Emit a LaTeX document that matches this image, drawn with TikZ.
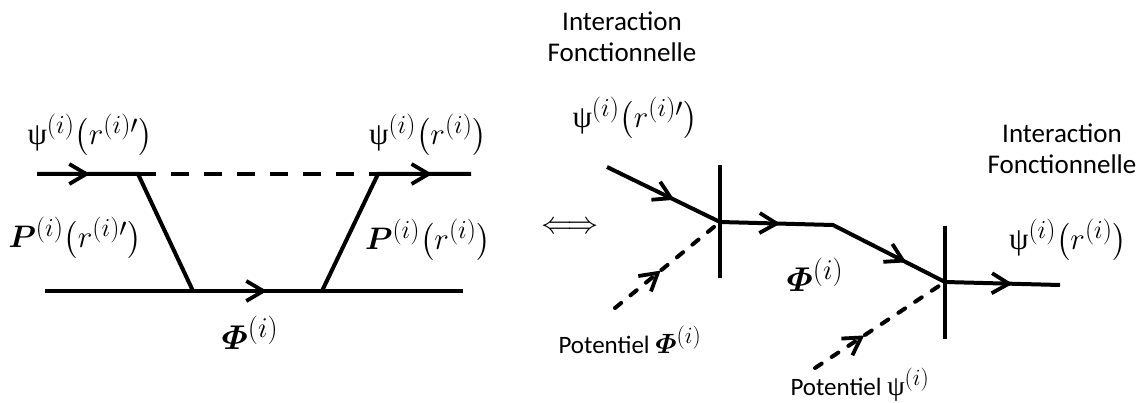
\documentclass[tikz,border=0pt]{standalone}
\usepackage{amsmath}
\usepackage{bm}
\usepackage[no-math]{fontspec}
\setmainfont{Carlito}
\newfontfamily\grkfont{Liberation Serif}
\newcommand{\mypsi}{\text{\grkfont ψ}}
\newcommand{\bigmath}[2]{\scalebox{#1}{\fontsize{24.88}{30}\selectfont$#2$}}
\usetikzlibrary{arrows.meta,decorations.markings}
\begin{document}
\begin{tikzpicture}[x=1pt,y=-1pt,
  line width=4pt, line join=miter,
  >={Straight Barb[length=17pt 0, width=20pt 0, line width=3.8pt]},
  lbl/.style={inner sep=0pt},
  txt/.style={inner sep=0pt, font=\fontsize{27}{31}\selectfont, align=center},
  pot/.style={inner sep=0pt, font=\fontsize{25}{30}\selectfont},
  bigdash/.style={dash pattern=on 18pt off 15pt},
  smalldash/.style={line cap=round, dash pattern=on 8pt off 12pt},
  arrowat/.style={postaction={decorate},decoration={markings,mark=at position #1 with {\arrow{>}}}}]
\useasboundingbox (0,0) rectangle (1143,403);

% ---------- left diagram ----------
\coordinate (a1) at (37,174);
\coordinate (a2) at (138,174);
\coordinate (a3) at (193,291);
\coordinate (b1) at (322,291);
\coordinate (b2) at (378,174);
\coordinate (b3) at (471,174);
\coordinate (c1) at (45,291);
\coordinate (c2) at (463,291);

\draw[arrowat=53pt] (a1) -- (a2) -- (a3);
\draw[bigdash] (a2) -- (b2);
\draw[arrowat=184pt] (b1) -- (b2) -- (b3);
\draw[arrowat=222pt] (c1) -- (c2);

\node[lbl] (psiL) at (90,135) {\bigmath{1.25}{\mypsi^{(i)}\bigl(r^{(i)\prime}\bigr)}};
\node[lbl] (psiR) at (428,135) {\bigmath{1.25}{\mypsi^{(i)}\bigl(r^{(i)}\bigr)}};
\node[lbl] (PL) at (75,238) {\bigmath{1.25}{\bm{P}^{(i)}\bigl(r^{(i)\prime}\bigr)}};
\node[lbl] (PR) at (428,240) {\bigmath{1.25}{\bm{P}^{(i)}\bigl(r^{(i)}\bigr)}};
\node[lbl] (PhiL) at (250,333) {\bigmath{1.38}{\bm{\varPhi}^{(i)}}};

\node[lbl] (iff) at (570,228) {\bigmath{1.25}{\Longleftrightarrow}};

% ---------- right diagram ----------
\coordinate (d1) at (607,167);
\coordinate (d2) at (720,222);
\coordinate (d3) at (833,225);
\coordinate (d4) at (945,282);
\coordinate (d5) at (1060,285);
\coordinate (v1t) at (720,165);
\coordinate (v1b) at (720,278);
\coordinate (v2t) at (945,226);
\coordinate (v2b) at (945,339);
\coordinate (p1) at (615,308);
\coordinate (p2) at (815,368);

\draw[postaction={decorate},decoration={markings,
   mark=at position 75pt with {\arrow{>}},
   mark=at position 186pt with {\arrow{>}},
   mark=at position 321pt with {\arrow{>}},
   mark=at position 432pt with {\arrow{>}}}]
   (d1) -- (d2) -- (d3) -- (d4) -- (d5);
\draw (v1t) -- (v1b);
\draw (v2t) -- (v2b);
\draw[smalldash, arrowat=59pt] (p1) -- (d2);
\draw[smalldash, arrowat=59pt] (p2) -- (d4);

\node[txt] (int1) at (622,37) {Interaction\\Fonctionnelle};
\node[txt] (int2) at (1062,149) {Interaction\\Fonctionnelle};
\node[lbl] (psiR1) at (635,118) {\bigmath{1.25}{\mypsi^{(i)}\bigl(r^{(i)\prime}\bigr)}};
\node[lbl] (psiR2) at (1068,240) {\bigmath{1.25}{\mypsi^{(i)}\bigl(r^{(i)}\bigr)}};
\node[lbl] (PhiR) at (815,275) {\bigmath{1.38}{\bm{\varPhi}^{(i)}}};
\node[pot] (pot1) at (630,340) {Potentiel \bigmath{1.12}{\bm{\varPhi}^{(i)}}};
\node[pot] (pot2) at (860,385) {Potentiel \bigmath{1.12}{\mypsi^{(i)}}};
\end{tikzpicture}
\end{document}
